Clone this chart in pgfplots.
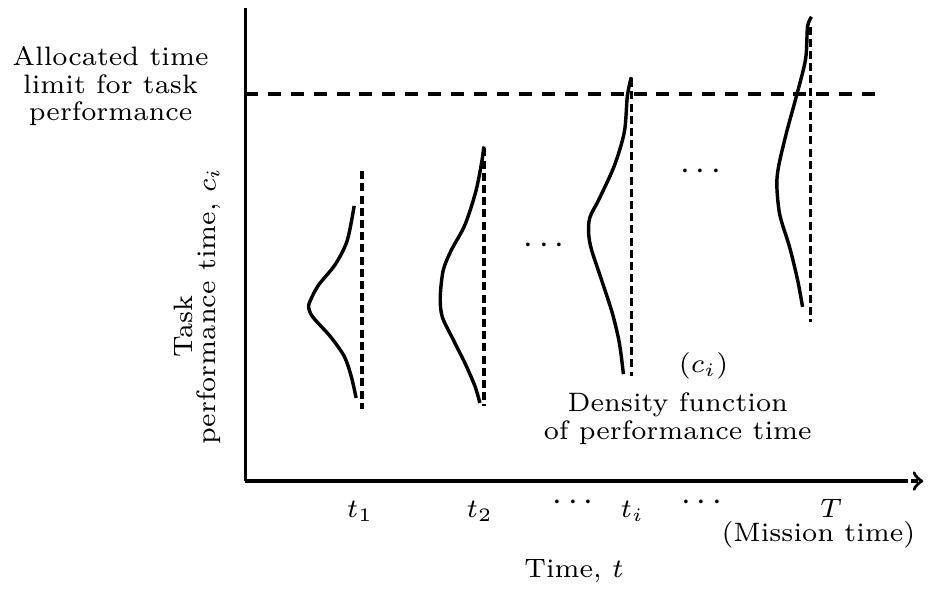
\documentclass[border=0pt]{standalone}
\usepackage{pgfplots}
\pgfplotsset{compat=1.18}

% small optical size, as in the scanned figure
\newcommand{\sz}{\fontsize{7}{7.15}\selectfont}
\newcommand{\dts}{{\fontsize{9.5}{9.5}\selectfont$\cdots$}}

\begin{document}
\begin{tikzpicture}
  \begin{axis}[
      scale only axis,
      width=172.4pt, height=124.3pt,
      xmin=240, xmax=903, ymin=0, ymax=478,
      axis x line=bottom, axis y line=left,
      axis line style={-, line width=0.9pt},
      ytick=\empty,
      xtick={356,477,571,631,701,832},
      xticklabels={$t_1$,$t_2$,\raisebox{1.9pt}{\dts},$t_i$,\raisebox{1.9pt}{\dts},$T$},
      major tick length=0pt,
      xticklabel style={font=\fontsize{7.4}{8}\selectfont, anchor=base, yshift=-9.5pt},
      xlabel={Time, $t$},
      xlabel style={font=\sz, at={(axis cs:572,-97)}, anchor=base},
      ylabel={performance time, $c_i$},
      ylabel style={font=\sz, inner sep=0pt, at={(axis cs:210,36)}, anchor=base west},
      clip=false,
    ]
    % picture frame (keeps the reference proportions)
    \path (axis cs:0,-112) rectangle (axis cs:928,486);

    % end of the time axis
    \addplot[line width=0.9pt, dash pattern=on 1.6pt off 1pt, ->] coordinates {(903,0) (925,0)};

    % allocated time limit
    \addplot[line width=1pt, dash pattern=on 3.4pt off 2.6pt] coordinates {(240,391) (882,391)};

    % t_1
    \addplot[line width=0.9pt, dash pattern=on 2.1pt off 1.1pt] coordinates {(358,313) (358,73)};
    \addplot[line width=0.9pt, smooth] coordinates {
      (350,278) (343,243) (331,219) (314,198) (306,183) (304,176)
      (308,166) (326,146) (340,126) (347,106) (352,84)
    };

    % t_2
    \addplot[line width=0.9pt, dash pattern=on 2.1pt off 1.1pt] coordinates {(481,336) (481,76)};
    \addplot[line width=0.9pt, smooth] coordinates {
      (481,338) (479,323) (473,293) (462,259) (448,233) (440,213) (437,186)
      (439,166) (450,143) (462,119) (472,96) (477,79)
    };

    % t_i
    \addplot[line width=0.9pt, dash pattern=on 2.1pt off 1.1pt] coordinates {(630,406) (630,106)};
    \addplot[line width=0.9pt, smooth] coordinates {
      (630,408) (626,389) (623,353) (613,319) (598,286) (588,266) (587,249)
      (590,233) (600,203) (611,169) (618,139) (622,108)
    };

    % T
    \addplot[line width=0.9pt, dash pattern=on 2.1pt off 1.1pt] coordinates {(811,459) (811,161)};
    \addplot[line width=0.9pt, smooth] coordinates {
      (812,469) (808,459) (806,426) (796,386) (787,353) (779,319) (777,299)
      (780,269) (790,236) (798,203) (803,176)
    };

    \node at (axis cs:542,238) {\dts};
    \node at (axis cs:700,312) {\dts};

    \node[font=\sz, align=center] at (axis cs:104,399) {Allocated time\\limit for task\\performance};
    \node[font=\sz, inner sep=0pt, rotate=90, anchor=base west] at (axis cs:187,124) {Task};
    \node[font=\sz] at (axis cs:703,116) {$(c_i)$};
    \node[font=\sz, align=center] at (axis cs:677,63) {Density function\\of performance time};
    \node[font=\sz, anchor=base] at (axis cs:819,-61) {(Mission time)};
  \end{axis}
\end{tikzpicture}
\end{document}
